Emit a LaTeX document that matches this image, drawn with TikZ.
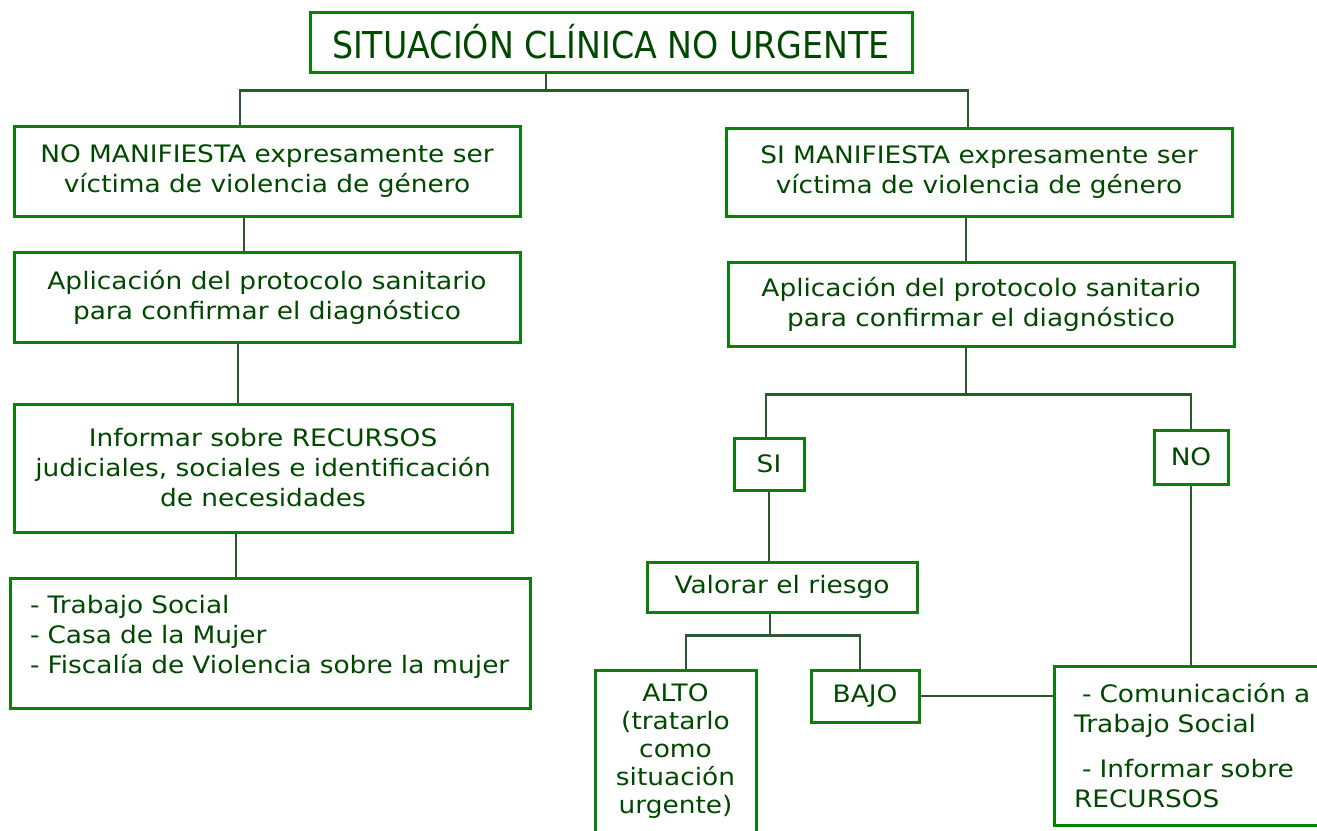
\documentclass[tikz,border=0pt]{standalone}
\usepackage{fontspec}
\usepackage{tikz}
\newfontfamily\bodyfont[FakeStretch=1.1]{DejaVu Sans}
\newfontfamily\titlefont[FakeStretch=0.9]{DejaVu Sans}
\definecolor{boxgreen}{RGB}{10,128,10}
\definecolor{txtgreen}{RGB}{0,72,0}
\definecolor{linkgreen}{RGB}{45,88,45}

\begin{document}
\begin{tikzpicture}
          [x = 1pt, y = -1pt,
           box/.style = {draw = boxgreen, line width = 3pt, text = txtgreen, align = center,
                         inner sep = 0pt, font = \bodyfont\fontsize{24}{30}\selectfont},
           link/.style = {draw = linkgreen, line width = 2.3pt}]
          \useasboundingbox (0,0) rectangle (1317,830);
          \node[box, minimum width = 602pt, minimum height = 60pt,
                font = \titlefont\fontsize{37}{40}\selectfont] (title) at (611,42) {SITUACIÓN CLÍNICA NO URGENTE};
          \node[box, minimum width = 506pt, minimum height = 90pt] (nomanif) at (267,171)
               {NO MANIFIESTA expresamente ser\\víctima de violencia de género};
          \node[box, minimum width = 506pt, minimum height = 90pt] (protL) at (267,297)
               {Aplicación del protocolo sanitario\\para confirmar el diagnóstico};
          \node[box, minimum width = 498pt, minimum height = 128pt] (infoL) at (263,468)
               {Informar sobre RECURSOS\\judiciales, sociales e identificación\\de necesidades};
          \node[box, minimum width = 520pt, minimum height = 130pt, align = left, text width = 480pt,
                text depth = 78pt] (recL) at (270,643)
               {- Trabajo Social\\- Casa de la Mujer\\- Fiscalía de Violencia sobre la mujer};
          \node[box, minimum width = 506pt, minimum height = 88pt] (simanif) at (979,172)
               {SI MANIFIESTA expresamente ser\\víctima de violencia de género};
          \node[box, minimum width = 506pt, minimum height = 84pt] (protR) at (981,304)
               {Aplicación del protocolo sanitario\\para confirmar el diagnóstico};
          \node[box, minimum width = 70pt, minimum height = 52pt] (si) at (769,464) {SI};
          \node[box, minimum width = 74pt, minimum height = 54pt] (no) at (1191,457) {NO};
          \node[box, minimum width = 270pt, minimum height = 50pt] (valorar) at (782,587) {Valorar el riesgo};
          \node[box, minimum width = 161pt, minimum height = 192pt, text depth = 35pt,
                font = \bodyfont\fontsize{24}{28}\selectfont] (alto) at (675.5,766)
               {ALTO\\(tratarlo\\como\\situación\\urgente)};
          \node[box, minimum width = 108pt, minimum height = 52pt] (bajo) at (865,696) {BAJO};
          \node[box, minimum width = 286pt, minimum height = 159pt, align = left, text width = 246pt] (comun) at (1197,745.5)
               {\hspace*{8pt}- Comunicación a\\Trabajo Social\\[15pt]\hspace*{8pt}- Informar sobre\\RECURSOS};
          \draw[link] ([xshift = -65pt]title.south) -- ++(0,17) coordinate (jt);
          \draw[link] ([xshift = -27pt]nomanif.north) |- (jt) -| ([xshift = -11pt]simanif.north);
          \draw[link] ([xshift = -23pt]nomanif.south) -- ([xshift = -23pt]nomanif.south |- protL.north);
          \draw[link] ([xshift = -29pt]protL.south) -- ([xshift = -29pt]protL.south |- infoL.north);
          \draw[link] ([xshift = -27pt]infoL.south) -- ([xshift = -27pt]infoL.south |- recL.north);
          \draw[link] ([xshift = -13pt]simanif.south) -- ([xshift = -13pt]simanif.south |- protR.north);
          \draw[link] ([xshift = -15pt]protR.south) -- ++(0,47) coordinate (jr);
          \draw[link] ([xshift = -3pt]si.north) |- (jr) -| (no.north);
          \draw[link] (si.south) -- (si.south |- valorar.north);
          \draw[link] ([xshift = -12pt]valorar.south) -- ++(0,22) coordinate (jv);
          \draw[link] ([xshift = 10.5pt]alto.north) |- (jv) -| ([xshift = -5pt]bajo.north);
          \draw[link] (bajo.east) -- (bajo.east -| comun.west);
          \draw[link] (no.south) -- (no.south |- comun.north);
        \end{tikzpicture}
\end{document}
